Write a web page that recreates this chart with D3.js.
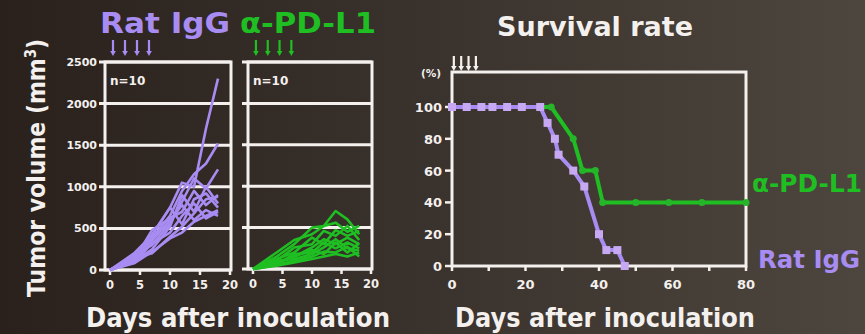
<!DOCTYPE html>
<html>
<head>
<meta charset="utf-8">
<script src="https://cdn.jsdelivr.net/npm/d3@7"></script>
<style>
  body { margin: 0; background: #2e2723; }
  text { font-family: 'DejaVu Sans', sans-serif; font-weight: bold; }
</style>
</head>
<body>
<div id="chart"></div>
<script>
// tumor growth, 10 mice per group
const tumorDays = [0, 4, 7, 10, 12, 14, 16, 18];
const ratIgG = [
  [0, 200, 420, 750, 1050, 1000, 1700, 2300],
  [0, 150, 380, 650, 950, 1150, 1280, 1520],
  [0, 180, 300, 560, 820, 1100, 980, 1210],
  [0, 120, 480, 620, 700, 950, 780, 900],
  [0, 100, 250, 520, 900, 700, 1000, 800],
  [0, 160, 420, 750, 550, 850, 920, 750],
  [0, 90, 320, 450, 650, 800, 620, 700],
  [0, 140, 200, 400, 520, 680, 850, 880],
  [0, 110, 350, 600, 780, 600, 720, 650],
  [0, 80, 220, 380, 450, 580, 650, 720]
];
const antiPDL1 = [
  [0, 150, 300, 500, 520, 700, 600, 420],
  [0, 200, 350, 420, 520, 560, 450, 520],
  [0, 100, 260, 300, 460, 400, 520, 350],
  [0, 120, 200, 380, 300, 470, 400, 460],
  [0, 80, 150, 260, 360, 300, 380, 300],
  [0, 60, 180, 200, 320, 250, 320, 250],
  [0, 100, 120, 180, 260, 360, 250, 220],
  [0, 50, 100, 150, 210, 200, 270, 150],
  [0, 70, 150, 230, 180, 320, 200, 310],
  [0, 40, 80, 120, 150, 180, 150, 200]
];
const treatDays = [0.5, 2.5, 4.5, 6.5];
const volTicks = [0, 500, 1000, 1500, 2000, 2500];
const dayTicks = [0, 5, 10, 15, 20];

// survival (%)
const survDaysIgG = [0, 4, 8, 11, 15, 19, 24, 26, 28, 29, 33, 36, 40, 42, 45, 47];
const survIgG     = [100, 100, 100, 100, 100, 100, 100, 90, 80, 70, 60, 50, 20, 10, 10, 0];
const survDaysPD  = [0, 27, 33, 35.5, 39, 41, 50, 59, 68, 80];
const survPD      = [100, 100, 80, 60, 60, 40, 40, 40, 40, 40];
const survYTicks = [0, 20, 40, 60, 80, 100];
const survXTicks = [0, 20, 40, 60, 80];
const survMinor = [10, 30, 50, 70];

const W = 865, H = 334;
const WHITE = "#f4f0ee", PURPLE = "#a88cf2", GREEN = "#1fbe22";

const svg = d3.select("#chart").append("svg")
    .attr("width", W).attr("height", H);

const grad = svg.append("defs").append("linearGradient")
    .attr("id", "bg").attr("x1", "0").attr("x2", "1").attr("y1", "0").attr("y2", "0");
grad.append("stop").attr("offset", "0").attr("stop-color", "#2a211d");
grad.append("stop").attr("offset", "0.5").attr("stop-color", "#3a322c");
grad.append("stop").attr("offset", "1").attr("stop-color", "#4d463e");
svg.append("rect").attr("width", W).attr("height", H).attr("fill", "url(#bg)");

function label(x, y, size, color, len, str) {
  return svg.append("text").attr("x", x).attr("y", y).attr("font-size", size)
      .attr("fill", color).attr("textLength", len)
      .attr("lengthAdjust", "spacingAndGlyphs").text(str);
}

function arrows(g, xs, yTop, len, color) {
  xs.forEach(function(x) {
    g.append("line").attr("x1", x).attr("x2", x).attr("y1", yTop).attr("y2", yTop + len - 4)
      .attr("stroke", color).attr("stroke-width", 2.2);
    g.append("path")
      .attr("d", "M" + (x - 2.8) + "," + (yTop + len - 5) + "L" + (x + 2.8) + "," + (yTop + len - 5) + "L" + x + "," + (yTop + len) + "Z")
      .attr("fill", color);
  });
}

function tumorPanel(opts) {
  const x = d3.scaleLinear().domain([0, 20]).range(opts.xr);
  const y = d3.scaleLinear().domain([0, 2500]).range([opts.y0, 62]);
  const g = svg.append("g");
  const left = x(0) - 5, right = x(20) + 1;

  // grid lines at each 500
  g.selectAll(".grid").data(volTicks).enter().append("line")
      .attr("x1", left - 6).attr("x2", right)
      .attr("y1", d => y(d)).attr("y2", d => y(d))
      .attr("stroke", WHITE).attr("stroke-width", 3);
  // frame
  g.append("rect").attr("x", left).attr("y", y(2500)).attr("width", right - left)
      .attr("height", y(0) - y(2500)).attr("fill", "none")
      .attr("stroke", WHITE).attr("stroke-width", 3);

  if (opts.yLabels) {
    g.selectAll(".yl").data(volTicks).enter().append("text")
        .attr("x", left - 8).attr("y", d => y(d) + 4)
        .attr("text-anchor", "end").attr("font-size", 11).attr("fill", WHITE)
        .text(d => d);
  }
  // x ticks
  g.selectAll(".xt").data(dayTicks).enter().append("line")
      .attr("x1", d => x(d)).attr("x2", d => x(d))
      .attr("y1", y(0)).attr("y2", y(0) + 5)
      .attr("stroke", WHITE).attr("stroke-width", 2.5);
  g.selectAll(".xl").data(dayTicks).enter().append("text")
      .attr("x", d => x(d)).attr("y", y(0) + 19)
      .attr("text-anchor", "middle").attr("font-size", 11.5).attr("fill", WHITE)
      .text(d => d);

  const line = d3.line().x((d, i) => x(tumorDays[i])).y(d => y(d));
  g.selectAll(".mouse").data(opts.data).enter().append("path")
      .attr("d", line).attr("fill", "none")
      .attr("stroke", opts.color).attr("stroke-width", 2.6)
      .attr("stroke-linejoin", "round");

  g.append("text").attr("x", left + 5).attr("y", 85)
      .attr("font-size", 12).attr("fill", WHITE).text("n=10");

  arrows(g, treatDays.map(d => x(d)), 40, 16, opts.color);
  return x;
}

tumorPanel({ xr: [110, 230], y0: 270, data: ratIgG, color: PURPLE, yLabels: true });
tumorPanel({ xr: [253, 371], y0: 269, data: antiPDL1, color: GREEN, yLabels: false });

// group titles
label(100, 33, 29, PURPLE, 130, "Rat IgG");
label(240, 33, 29, GREEN, 136, "α-PD-L1");

// y title
svg.append("text")
    .attr("transform", "translate(45,168) rotate(-90)")
    .attr("text-anchor", "middle").attr("font-size", 25).attr("fill", WHITE)
    .attr("textLength", 258).attr("lengthAdjust", "spacingAndGlyphs")
    .html("Tumor volume (mm<tspan dy='-9' font-size='15'>3</tspan><tspan dy='9'>)</tspan>");

label(86, 327, 27, WHITE, 304, "Days after inoculation");

// survival panel
const xs = d3.scaleLinear().domain([0, 80]).range([452, 746]);
const ys = d3.scaleLinear().domain([0, 100]).range([266, 107]);
const sg = svg.append("g");

sg.append("rect").attr("x", xs(0)).attr("y", ys(122)).attr("width", xs(80) - xs(0))
    .attr("height", ys(0) - ys(122)).attr("fill", "none")
    .attr("stroke", WHITE).attr("stroke-width", 3);
sg.selectAll(".yt").data(survYTicks).enter().append("line")
    .attr("x1", xs(0) - 7).attr("x2", xs(0))
    .attr("y1", d => ys(d)).attr("y2", d => ys(d))
    .attr("stroke", WHITE).attr("stroke-width", 2.5);
sg.selectAll(".yl").data(survYTicks).enter().append("text")
    .attr("x", xs(0) - 10).attr("y", d => ys(d) + 5)
    .attr("text-anchor", "end").attr("font-size", 13).attr("fill", WHITE)
    .text(d => d);
sg.selectAll(".xt").data(survXTicks.concat(survMinor)).enter().append("line")
    .attr("x1", d => xs(d)).attr("x2", d => xs(d))
    .attr("y1", ys(0)).attr("y2", ys(0) + 5)
    .attr("stroke", WHITE).attr("stroke-width", 2.5);
sg.selectAll(".xl").data(survXTicks).enter().append("text")
    .attr("x", d => xs(d)).attr("y", ys(0) + 23)
    .attr("text-anchor", "middle").attr("font-size", 13).attr("fill", WHITE)
    .text(d => d);
sg.append("text").attr("x", 421).attr("y", 77).attr("font-size", 10.5)
    .attr("fill", WHITE).text("(%)");
arrows(sg, treatDays.map(d => xs(d)), 56, 15, WHITE);

const survLine = d3.line().x(d => xs(d[0])).y(d => ys(d[1]));
const pdPts = survDaysPD.map((d, i) => [d, survPD[i]]);
const igPts = survDaysIgG.map((d, i) => [d, survIgG[i]]);

sg.append("path").attr("d", survLine(pdPts)).attr("fill", "none")
    .attr("stroke", GREEN).attr("stroke-width", 4).attr("stroke-linejoin", "round");
sg.selectAll(".pdm").data(pdPts).enter().append("circle")
    .attr("cx", d => xs(d[0])).attr("cy", d => ys(d[1])).attr("r", 3.5)
    .attr("fill", "#26b52a");
sg.append("path").attr("d", survLine(igPts)).attr("fill", "none")
    .attr("stroke", PURPLE).attr("stroke-width", 4).attr("stroke-linejoin", "round");
sg.selectAll(".igm").data(igPts).enter().append("rect")
    .attr("x", d => xs(d[0]) - 4).attr("y", d => ys(d[1]) - 4)
    .attr("width", 8).attr("height", 8).attr("fill", "#c7a9f3");

label(497, 36, 27, WHITE, 196, "Survival rate");
label(455, 327, 27, WHITE, 300, "Days after inoculation");
label(752, 192, 24, GREEN, 110, "α-PD-L1");
label(758, 268, 24, PURPLE, 102, "Rat IgG");
</script>
</body>
</html>
